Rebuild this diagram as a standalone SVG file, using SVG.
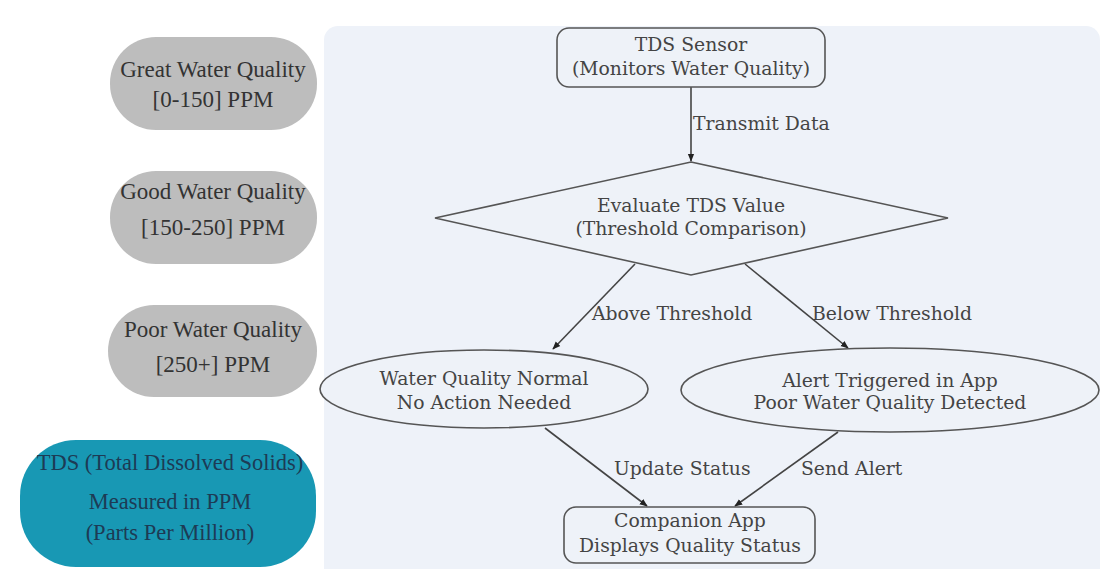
<svg xmlns="http://www.w3.org/2000/svg" width="1101" height="569" viewBox="0 0 1101 569">
<style>
text{font-family:"DejaVu Serif","Liberation Serif",serif;font-size:18.8px;fill:#444;text-anchor:middle}
.side{font-family:"Liberation Serif","Times New Roman",serif;font-size:23px;fill:#333}
.tt{fill:#1d3b55;font-size:22.5px}
.pill{fill:#bdbdbd}
.teal{fill:#1898b4}
.node{fill:#eef2f8;stroke:#555;stroke-width:1.6}
.edge{stroke:#444;stroke-width:1.6;fill:none;marker-end:url(#ah)}
.lbl{text-anchor:start}
</style>
<defs>
<marker id="ah" viewBox="0 0 10 10" refX="9" refY="5" markerWidth="8" markerHeight="8" orient="auto" markerUnits="userSpaceOnUse">
<path d="M0,1 L10,5 L0,9 z" fill="#222"/>
</marker>
</defs>
<rect width="1101" height="569" fill="#ffffff"/>
<rect x="324" y="26" width="776" height="560" rx="14" fill="#eef2f9"/>
<g id="great"><rect class="pill" x="110" y="37" width="207" height="93" rx="46"/><text class="side" x="213" y="77">Great Water Quality</text><text class="side" x="213" y="107">[0-150] PPM</text></g>
<g id="good"><rect class="pill" x="110" y="171" width="207" height="93" rx="46"/><text class="side" x="213" y="199">Good Water Quality</text><text class="side" x="213" y="235">[150-250] PPM</text></g>
<g id="poor"><rect class="pill" x="108" y="305" width="209" height="92" rx="46"/><text class="side" x="213" y="337">Poor Water Quality</text><text class="side" x="213" y="372">[250+] PPM</text></g>
<g id="tds"><rect class="teal" x="20" y="440" width="296" height="127" rx="56"/><text class="side tt" x="170" y="470">TDS (Total Dissolved Solids)</text><text class="side tt" x="170" y="509">Measured in PPM</text><text class="side tt" x="170" y="540">(Parts Per Million)</text></g>
<g id="connectors">
<line class="edge" x1="691" y1="87" x2="691" y2="161"/>
<line class="edge" x1="635" y1="264" x2="553" y2="349"/>
<line class="edge" x1="745" y1="264" x2="848" y2="348"/>
<line class="edge" x1="545" y1="428" x2="647" y2="506"/>
<line class="edge" x1="838" y1="432" x2="735" y2="506"/>
<text class="lbl" x="693" y="130">Transmit Data</text>
<text class="lbl" x="592" y="320">Above Threshold</text>
<text class="lbl" x="812" y="320">Below Threshold</text>
<text class="lbl" x="614" y="475">Update Status</text>
<text class="lbl" x="801" y="475">Send Alert</text>
</g>
<g id="sensor"><rect class="node" x="557" y="28" width="268" height="59" rx="12"/><text x="691" y="51">TDS Sensor</text><text x="691" y="75">(Monitors Water Quality)</text></g>
<g id="evaluate"><polygon class="node" points="691,162 948,218 691,275 435,218"/><text x="691" y="212">Evaluate TDS Value</text><text x="691" y="235">(Threshold Comparison)</text></g>
<g id="normal"><ellipse class="node" cx="484" cy="389" rx="164" ry="39"/><text x="484" y="385">Water Quality Normal</text><text x="484" y="409">No Action Needed</text></g>
<g id="alert"><ellipse class="node" cx="890" cy="390" rx="209" ry="42"/><text x="890" y="387">Alert Triggered in App</text><text x="890" y="409">Poor Water Quality Detected</text></g>
<g id="app"><rect class="node" x="564" y="507" width="251" height="56" rx="12"/><text x="690" y="527">Companion App</text><text x="690" y="552">Displays Quality Status</text></g>
</svg>
